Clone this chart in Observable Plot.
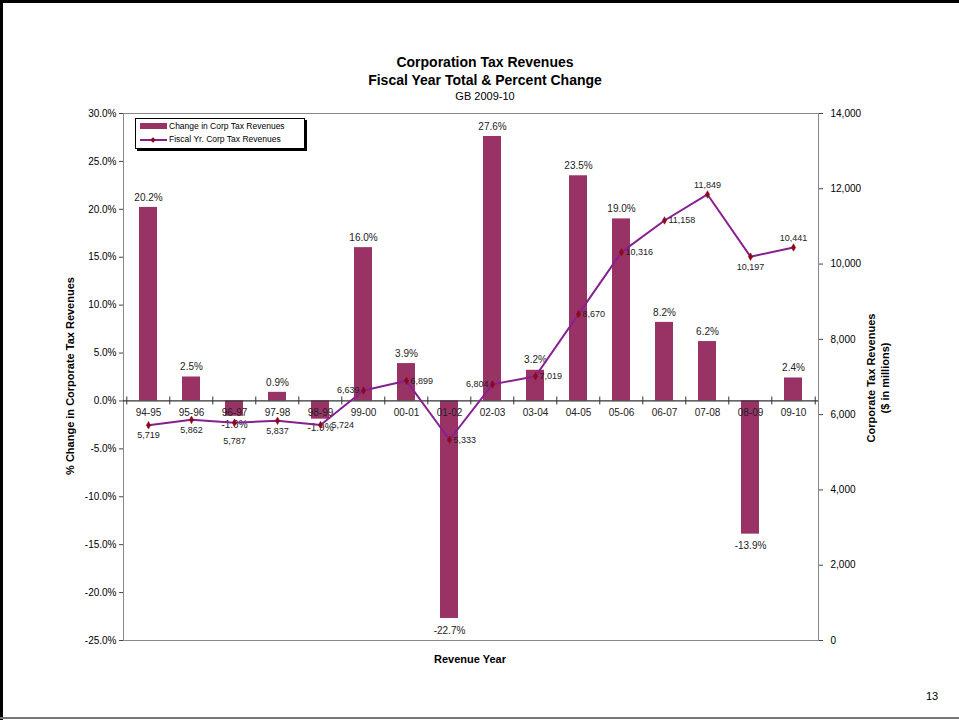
<!DOCTYPE html>
<html>
<head>
<meta charset="utf-8">
<script src="https://cdn.jsdelivr.net/npm/d3@7"></script>
<script src="https://cdn.jsdelivr.net/npm/@observablehq/plot@0.6"></script>
<style>
  body { margin: 0; background: #fff; font-family: "Liberation Sans", Arial, sans-serif; }
  #page { position: relative; width: 959px; height: 720px; overflow: hidden; background: #fff; }
  #page svg { position: absolute; left: 0; top: 0; }
  .abs { position: absolute; white-space: nowrap; color: #000; }
  .frameTop { position: absolute; left: 0; top: 0; width: 959px; height: 3px; background: #000; }
  .frameLeft { position: absolute; left: 0; top: 0; width: 3px; height: 720px; background: #000; }
  .frameBottom { position: absolute; left: 0; top: 717px; width: 959px; height: 2px; background: #777; }
</style>
</head>
<body>
<div id="page"></div>
<script>
// ---- Data ----
const years = ["94-95","95-96","96-97","97-98","98-99","99-00","00-01","01-02","02-03","03-04","04-05","05-06","06-07","07-08","08-09","09-10"];
const pctChange = [20.2, 2.5, -1.6, 0.9, -1.9, 16.0, 3.9, -22.7, 27.6, 3.2, 23.5, 19.0, 8.2, 6.2, -13.9, 2.4];
const revenue = [5719, 5862, 5787, 5837, 5724, 6639, 6899, 5333, 6804, 7019, 8670, 10316, 11158, 11849, 10197, 10441];
const revenueLabelPlace = ["below","below","below2","below","right2","left","right","right","left","right","right","right","right","above","below","above"];
const leftTicks = [-25, -20, -15, -10, -5, 0, 5, 10, 15, 20, 25, 30];
const rightTicks = [0, 2000, 4000, 6000, 8000, 10000, 12000, 14000];

// ---- Layout ----
const W = 959, H = 720;
const ML = 123, MR = 141, MT = 113, MB = 80;
const pctDomain = [-25, 30];
const revDomain = [0, 14000];
const toPct = v => pctDomain[0] + (v - revDomain[0]) / (revDomain[1] - revDomain[0]) * (pctDomain[1] - pctDomain[0]);
const fromPct = p => revDomain[0] + (p - pctDomain[0]) / (pctDomain[1] - pctDomain[0]) * (revDomain[1] - revDomain[0]);
const step = (W - ML - MR) / years.length;
const pxPerUnit = (H - MT - MB) / (pctDomain[1] - pctDomain[0]);

const barColor = "#993366";
const lineColor = "#87208f";
const dotColor = "#8b0a1a";

const rows = years.map((y, i) => ({
  year: y, pct: pctChange[i], rev: revenue[i], revPct: toPct(revenue[i]), place: revenueLabelPlace[i], i
}));

const fmtRev = d3.format(",");
const fmtPct = d => d.toFixed(1) + "%";
const tickHalf = 4 / pxPerUnit;
const lbl = { x: "year", y: "revPct", text: d => fmtRev(d.rev), fontSize: 9, fill: "#222" };

const chart = Plot.plot({
  width: W, height: H,
  marginLeft: ML, marginRight: MR, marginTop: MT, marginBottom: MB,
  style: { fontFamily: "'Liberation Sans', Arial, sans-serif", fontSize: "10px", background: "transparent", color: "#000" },
  x: { domain: years, paddingInner: 0.57, paddingOuter: 0.285, axis: null },
  y: { domain: pctDomain, axis: null },
  marks: [
    Plot.frame({ stroke: "#888", strokeWidth: 1 }),
    Plot.axisY({ anchor: "left", ticks: leftTicks, tickFormat: fmtPct, tickSize: 4, tickPadding: 3, label: null, fontSize: 10, stroke: "#444" }),
    Plot.axisY({ anchor: "right", ticks: rightTicks.map(toPct), tickFormat: d => fmtRev(Math.round(fromPct(d))), tickSize: 4, tickPadding: 8, label: null, fontSize: 10, stroke: "#444" }),
    Plot.barY(rows, { x: "year", y: "pct", fill: barColor }),
    Plot.ruleY([0], { stroke: "#333", strokeWidth: 1.2 }),
    Plot.ruleX(rows, { x: "year", y1: -tickHalf, y2: tickHalf, dx: -step / 2, stroke: "#333" }),
    Plot.ruleX(rows.slice(-1), { x: "year", y1: -tickHalf, y2: tickHalf, dx: step / 2, stroke: "#333" }),
    Plot.text(rows, { x: "year", y: 0, text: "year", dy: 12, fontSize: 10, fill: "#222" }),
    // percent labels
    Plot.text(rows.filter(d => d.pct >= 0), { x: "year", y: "pct", text: d => fmtPct(d.pct), dy: -10, fontSize: 10, fill: "#222" }),
    Plot.text(rows.filter(d => d.pct < -5), { x: "year", y: "pct", text: d => fmtPct(d.pct), dy: 12, fontSize: 10, fill: "#222" }),
    Plot.text(rows.filter(d => d.pct < 0 && d.pct >= -5), { x: "year", y: "pct", text: d => fmtPct(d.pct), dy: 9, fontSize: 10, fill: "#222" }),
    // revenue line
    Plot.line(rows, { x: "year", y: "revPct", stroke: lineColor, strokeWidth: 2 }),
    Plot.dot(rows, { x: "year", y: "revPct", symbol: "diamond", r: 2.3, fill: dotColor, stroke: dotColor, strokeWidth: 0.5 }),
    // revenue labels
    Plot.text(rows.filter(d => d.place === "below"), { ...lbl, dy: 10 }),
    Plot.text(rows.filter(d => d.place === "below2"), { ...lbl, dy: 18 }),
    Plot.text(rows.filter(d => d.place === "above"), { ...lbl, dy: -9 }),
    Plot.text(rows.filter(d => d.place === "right"), { ...lbl, dx: 4, textAnchor: "start" }),
    Plot.text(rows.filter(d => d.place === "right2"), { ...lbl, dx: 11, textAnchor: "start" }),
    Plot.text(rows.filter(d => d.place === "left"), { ...lbl, dx: -4, textAnchor: "end" })
  ]
});

const page = document.getElementById("page");
page.appendChild(chart);

function addText(txt, css) {
  const d = document.createElement("div");
  d.className = "abs";
  d.textContent = txt;
  Object.assign(d.style, css);
  page.appendChild(d);
  return d;
}

// frame of slide
["frameTop", "frameLeft", "frameBottom"].forEach(c => { const d = document.createElement("div"); d.className = c; page.appendChild(d); });

// titles
addText("Corporation Tax Revenues", { left: "0px", width: "970px", textAlign: "center", top: "54px", fontSize: "14px", fontWeight: "bold" });
addText("Fiscal Year Total & Percent Change", { left: "0px", width: "970px", textAlign: "center", top: "72px", fontSize: "14px", fontWeight: "bold" });
addText("GB 2009-10", { left: "0px", width: "970px", textAlign: "center", top: "90px", fontSize: "11px" });

// axis titles
addText("Revenue Year", { left: "0px", width: "940px", textAlign: "center", top: "653px", fontSize: "11px", fontWeight: "bold" });
addText("% Change in Corporate Tax Revenues", { left: "70px", top: "376px", fontSize: "11px", fontWeight: "bold", transform: "translate(-50%,-50%) rotate(-90deg)" });
const rt = addText("", { left: "878px", top: "378px", fontSize: "11px", fontWeight: "bold", textAlign: "center", lineHeight: "14px", transform: "translate(-50%,-50%) rotate(-90deg)" });
rt.innerHTML = "Corporate Tax Revenues<br>($ in millions)";

// page number
addText("13", { left: "926px", top: "690px", fontSize: "11px" });

// legend
const leg = document.createElement("div");
Object.assign(leg.style, { position: "absolute", left: "135px", top: "118px", width: "168px", height: "29px", border: "1px solid #000", background: "#fff", boxShadow: "2px 2px 0 #000", fontSize: "8.5px", fontFamily: "'Liberation Sans', Arial, sans-serif" });
leg.innerHTML =
  `<div style="position:absolute;left:4px;top:4px;width:27px;height:6px;background:${barColor}"></div>` +
  `<div style="position:absolute;left:33px;top:2px;">Change in Corp Tax Revenues</div>` +
  `<div style="position:absolute;left:4px;top:20px;width:27px;height:2px;background:${lineColor}"></div>` +
  `<div style="position:absolute;left:15px;top:19px;width:4px;height:4px;background:${dotColor};transform:rotate(45deg)"></div>` +
  `<div style="position:absolute;left:33px;top:15px;">Fiscal Yr. Corp Tax Revenues</div>`;
page.appendChild(leg);
</script>
</body>
</html>
